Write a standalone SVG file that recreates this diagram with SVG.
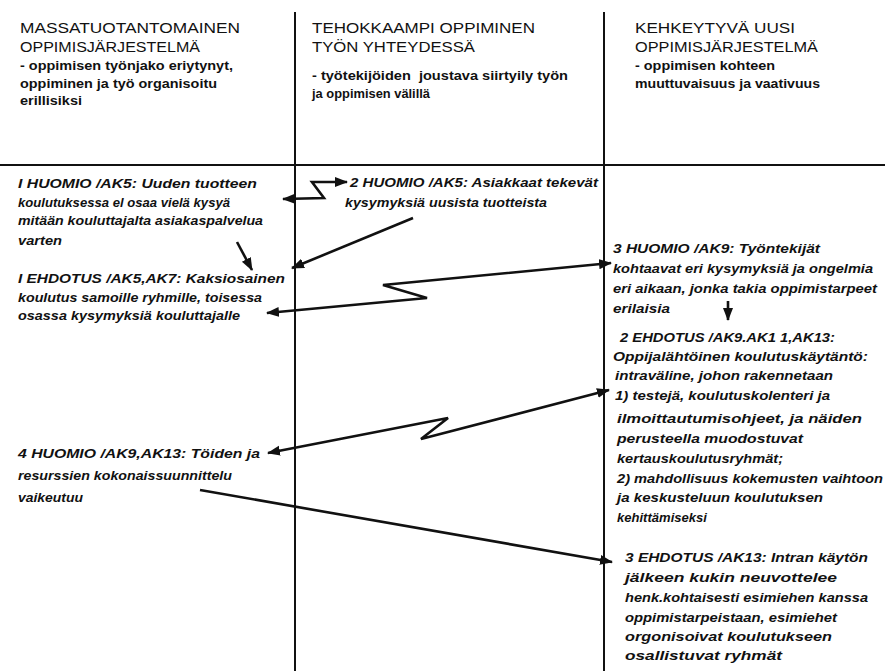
<svg xmlns="http://www.w3.org/2000/svg" width="885" height="671" viewBox="0 0 885 671">
<style>
text{font-family:"Liberation Sans",Arial,sans-serif;font-size:14px;fill:#111}
.h{font-weight:normal}
.hs{font-weight:bold;font-size:13.5px}
.b{font-style:italic;font-weight:bold;font-size:13.5px}
.grid{stroke:#111;stroke-width:2;fill:none}
.con{stroke:#111;stroke-width:2.6;fill:none;stroke-linejoin:miter}
</style>
<defs>
<marker id="ah" markerUnits="userSpaceOnUse" markerWidth="13" markerHeight="11" refX="12" refY="5" orient="auto-start-reverse">
<path d="M0,0 L13,5 L0,10 z" fill="#111"/>
</marker>
</defs>
<rect width="885" height="671" fill="#fff"/>
<g id="grid">
<line class="grid" x1="295" y1="12" x2="295" y2="671"/>
<line class="grid" x1="604" y1="12" x2="604" y2="671"/>
<line class="grid" x1="0" y1="165" x2="885" y2="165"/>
</g>
<g id="col1-header">
<text class="h" x="20" y="33" textLength="220" lengthAdjust="spacingAndGlyphs">MASSATUOTANTOMAINEN</text>
<text class="h" x="20" y="52" textLength="180" lengthAdjust="spacingAndGlyphs">OPPIMISJÄRJESTELMÄ</text>
<text class="hs" x="20" y="70" textLength="213" lengthAdjust="spacingAndGlyphs">- oppimisen työnjako eriytynyt,</text>
<text class="hs" x="20" y="88" textLength="197" lengthAdjust="spacingAndGlyphs">oppiminen ja työ organisoitu</text>
<text class="hs" x="20" y="105" textLength="62" lengthAdjust="spacingAndGlyphs">erillisiksi</text>
</g>
<g id="col2-header">
<text class="h" x="312" y="33" textLength="223" lengthAdjust="spacingAndGlyphs">TEHOKKAAMPI OPPIMINEN</text>
<text class="h" x="312" y="52" textLength="163" lengthAdjust="spacingAndGlyphs">TYÖN YHTEYDESSÄ</text>
<text class="hs" x="312" y="80" textLength="256" lengthAdjust="spacingAndGlyphs" xml:space="preserve">- työtekijöiden  joustava siirtyily työn</text>
<text class="hs" x="312" y="98" textLength="118" lengthAdjust="spacingAndGlyphs">ja oppimisen välillä</text>
</g>
<g id="col3-header">
<text class="h" x="635" y="33" textLength="160" lengthAdjust="spacingAndGlyphs">KEHKEYTYVÄ UUSI</text>
<text class="h" x="635" y="52" textLength="183" lengthAdjust="spacingAndGlyphs">OPPIMISJÄRJESTELMÄ</text>
<text class="hs" x="635" y="70" textLength="140" lengthAdjust="spacingAndGlyphs">- oppimisen kohteen</text>
<text class="hs" x="635" y="88" textLength="185" lengthAdjust="spacingAndGlyphs">muuttuvaisuus ja vaativuus</text>
</g>
<g id="huomio1">
<text class="b" x="18" y="188" textLength="239" lengthAdjust="spacingAndGlyphs">I HUOMIO /AK5: Uuden tuotteen</text>
<text class="b" x="18" y="207" textLength="212" lengthAdjust="spacingAndGlyphs">koulutuksessa el osaa vielä kysyä</text>
<text class="b" x="18" y="225" textLength="245" lengthAdjust="spacingAndGlyphs">mitään kouluttajalta asiakaspalvelua</text>
<text class="b" x="18" y="245" textLength="44" lengthAdjust="spacingAndGlyphs">varten</text>
</g>
<g id="ehdotus1">
<text class="b" x="18" y="283" textLength="267" lengthAdjust="spacingAndGlyphs">I EHDOTUS /AK5,AK7: Kaksiosainen</text>
<text class="b" x="18" y="302" textLength="244" lengthAdjust="spacingAndGlyphs">koulutus samoille ryhmille, toisessa</text>
<text class="b" x="18" y="320" textLength="222" lengthAdjust="spacingAndGlyphs">osassa kysymyksiä kouluttajalle</text>
</g>
<g id="huomio4">
<text class="b" x="18" y="458" textLength="242" lengthAdjust="spacingAndGlyphs">4 HUOMIO /AK9,AK13: Töiden ja</text>
<text class="b" x="18" y="480" textLength="214" lengthAdjust="spacingAndGlyphs">resurssien kokonaissuunnittelu</text>
<text class="b" x="18" y="502" textLength="65" lengthAdjust="spacingAndGlyphs">vaikeutuu</text>
</g>
<g id="huomio2">
<text class="b" x="350" y="187" textLength="248" lengthAdjust="spacingAndGlyphs">2 HUOMIO /AK5: Asiakkaat tekevät</text>
<text class="b" x="345" y="207" textLength="202" lengthAdjust="spacingAndGlyphs">kysymyksiä uusista tuotteista</text>
</g>
<g id="huomio3">
<text class="b" x="613" y="253" textLength="207" lengthAdjust="spacingAndGlyphs">3 HUOMIO /AK9: Työntekijät</text>
<text class="b" x="613" y="273" textLength="260" lengthAdjust="spacingAndGlyphs">kohtaavat eri kysymyksiä ja ongelmia</text>
<text class="b" x="613" y="293" textLength="264" lengthAdjust="spacingAndGlyphs">eri aikaan, jonka takia oppimistarpeet</text>
<text class="b" x="613" y="313" textLength="57" lengthAdjust="spacingAndGlyphs">erilaisia</text>
</g>
<g id="ehdotus2">
<text class="b" x="620" y="342" textLength="215" lengthAdjust="spacingAndGlyphs">2 EHDOTUS /AK9.AK1 1,AK13:</text>
<text class="b" x="613" y="361" textLength="255" lengthAdjust="spacingAndGlyphs">Oppijalähtöinen koulutuskäytäntö:</text>
<text class="b" x="615" y="380" textLength="218" lengthAdjust="spacingAndGlyphs">intraväline, johon rakennetaan</text>
<text class="b" x="615" y="400" textLength="215" lengthAdjust="spacingAndGlyphs">1) testejä, koulutuskolenteri ja</text>
<text class="b" x="617" y="423" textLength="245" lengthAdjust="spacingAndGlyphs">ilmoittautumisohjeet, ja näiden</text>
<text class="b" x="617" y="443" textLength="186" lengthAdjust="spacingAndGlyphs">perusteella muodostuvat</text>
<text class="b" x="617" y="463" textLength="166" lengthAdjust="spacingAndGlyphs">kertauskoulutusryhmät;</text>
<text class="b" x="617" y="483" textLength="266" lengthAdjust="spacingAndGlyphs">2) mahdollisuus kokemusten vaihtoon</text>
<text class="b" x="617" y="502" textLength="206" lengthAdjust="spacingAndGlyphs">ja keskusteluun koulutuksen</text>
<text class="b" x="617" y="522" textLength="90" lengthAdjust="spacingAndGlyphs">kehittämiseksi</text>
</g>
<g id="ehdotus3">
<text class="b" x="625" y="562" textLength="243" lengthAdjust="spacingAndGlyphs">3 EHDOTUS /AK13: Intran käytön</text>
<text class="b" x="625" y="582" textLength="212" lengthAdjust="spacingAndGlyphs">jälkeen kukin neuvottelee</text>
<text class="b" x="625" y="602" textLength="243" lengthAdjust="spacingAndGlyphs">henk.kohtaisesti esimiehen kanssa</text>
<text class="b" x="625" y="622" textLength="212" lengthAdjust="spacingAndGlyphs">oppimistarpeistaan, esimiehet</text>
<text class="b" x="625" y="641" textLength="207" lengthAdjust="spacingAndGlyphs">orgonisoivat koulutukseen</text>
<text class="b" x="625" y="660" textLength="157" lengthAdjust="spacingAndGlyphs">osallistuvat ryhmät</text>
</g>
<g id="connectors">
<path class="con" d="M283,199 L324,198 L312,182 L347,182" marker-start="url(#ah)" marker-end="url(#ah)"/>
<path class="con" d="M413,218 L292,268" marker-end="url(#ah)"/>
<path class="con" d="M237,242 L252,270" marker-end="url(#ah)"/>
<path class="con" d="M267,313 L427,298 L383,285 L611,263" marker-start="url(#ah)" marker-end="url(#ah)"/>
<path class="con" d="M268,453 L448,418 L421,439 L609,390" marker-start="url(#ah)" marker-end="url(#ah)"/>
<path class="con" d="M200,490 L612,562" marker-end="url(#ah)"/>
<path class="con" d="M728,301 L728,320" marker-end="url(#ah)"/>
</g>
</svg>
